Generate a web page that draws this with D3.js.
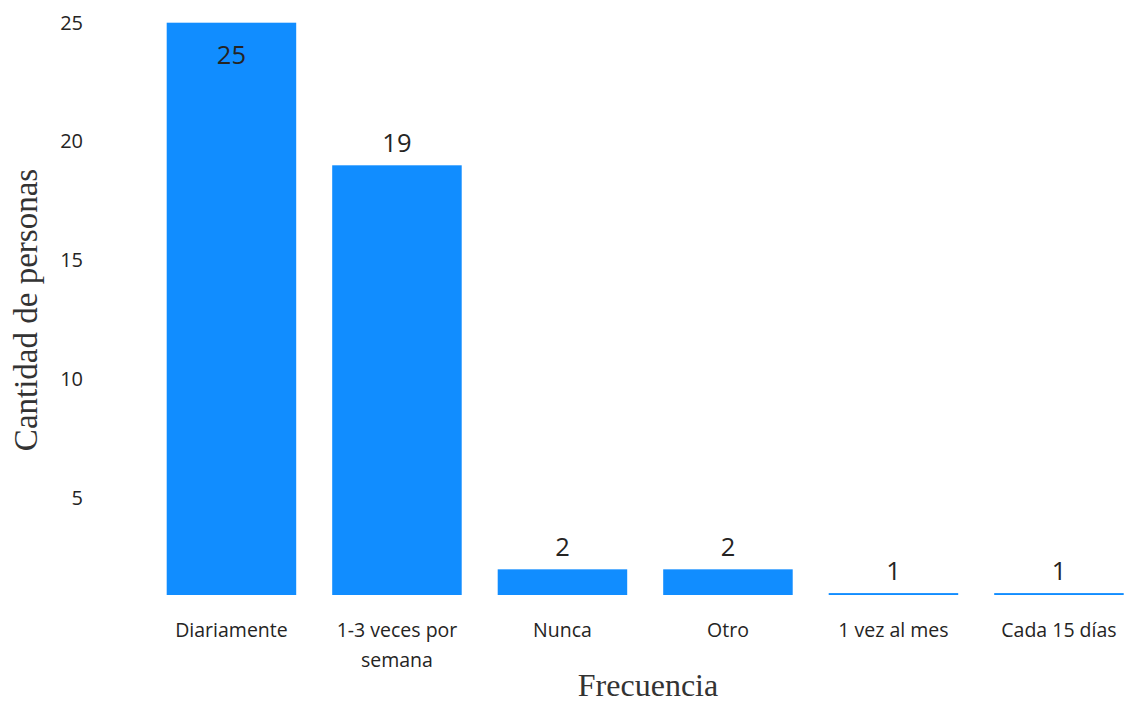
<!DOCTYPE html>
<html>
<head>
<meta charset="utf-8">
<script src="https://cdn.jsdelivr.net/npm/d3@7"></script>
<style>
  html, body { margin: 0; padding: 0; background: #ffffff; }
  svg { display: block; }
</style>
</head>
<body>
<svg id="chart" width="1124" height="703"></svg>
<script>
// Frecuencia con la que las personas realizan la actividad
const categories = ["Diariamente", "1-3 veces por semana", "Nunca", "Otro", "1 vez al mes", "Cada 15 días"];
const categoryLines = [["Diariamente"], ["1-3 veces por", "semana"], ["Nunca"], ["Otro"], ["1 vez al mes"], ["Cada 15 días"]];
const personas = [25, 19, 2, 2, 1, 1];
const yTicks = [5, 10, 15, 20, 25];
const yDomain = [0.92, 25];

const svg = d3.select("#chart");
const plot = { left: 166.7, right: 1123.7, top: 22.7, bottom: 595 };

const barColor = "#118DFF";
const textColor = "#252423";
const sansFont = "'Open Sans', 'Noto Sans', sans-serif";
const serifFont = "'Liberation Serif', 'Times New Roman', serif";

const x = d3.scaleBand()
  .domain(categories)
  .range([plot.left, plot.right])
  .paddingInner(0.2175)
  .paddingOuter(0);

const y = d3.scaleLinear()
  .domain(yDomain)
  .range([plot.bottom, plot.top]);

// Bars
svg.append("g")
  .selectAll("rect")
  .data(personas)
  .join("rect")
  .attr("x", (d, i) => x(categories[i]))
  .attr("y", d => y(d))
  .attr("width", x.bandwidth())
  .attr("height", d => plot.bottom - y(d))
  .attr("fill", barColor);

// Value labels: above the bar, or inside when there is no room above
svg.append("g")
  .selectAll("text")
  .data(personas)
  .join("text")
  .attr("x", (d, i) => x(categories[i]) + x.bandwidth() / 2)
  .attr("y", d => (y(d) - 40 < plot.top) ? y(d) + 41 : y(d) - 13.5)
  .attr("text-anchor", "middle")
  .attr("font-family", sansFont)
  .attr("font-size", 25.5)
  .attr("fill", textColor)
  .text(d => d);

// Y axis (labels only)
const yAxis = d3.axisLeft(y)
  .tickValues(yTicks)
  .tickSize(0)
  .tickPadding(0)
  .tickFormat(d3.format("d"));

const yG = svg.append("g")
  .attr("transform", "translate(83,0)")
  .call(yAxis);
yG.select(".domain").remove();
yG.selectAll("text")
  .attr("font-family", sansFont)
  .attr("font-size", 20)
  .attr("fill", textColor);

// X axis (category labels, wrapped)
const xAxis = d3.axisBottom(x).tickSize(0).tickFormat(() => "");
const xG = svg.append("g")
  .attr("transform", `translate(0,${plot.bottom})`)
  .call(xAxis);
xG.select(".domain").remove();
xG.selectAll(".tick text").each(function(d, i) {
  const t = d3.select(this)
    .attr("y", 0)
    .attr("dy", null)
    .attr("font-family", sansFont)
    .attr("font-size", 19.5)
    .attr("fill", textColor)
    .attr("text-anchor", "middle");
  categoryLines[i].forEach((line, k) => {
    t.append("tspan")
      .attr("x", 0)
      .attr("y", 42 + k * 30)
      .text(line);
  });
});

// Axis titles
svg.append("text")
  .attr("x", 648)
  .attr("y", 696)
  .attr("text-anchor", "middle")
  .attr("font-family", serifFont)
  .attr("font-size", 32)
  .attr("fill", "#333333")
  .text("Frecuencia");

svg.append("text")
  .attr("transform", "translate(37,310) rotate(-90)")
  .attr("text-anchor", "middle")
  .attr("font-family", serifFont)
  .attr("font-size", 33)
  .attr("fill", "#333333")
  .text("Cantidad de personas");
</script>
</body>
</html>
